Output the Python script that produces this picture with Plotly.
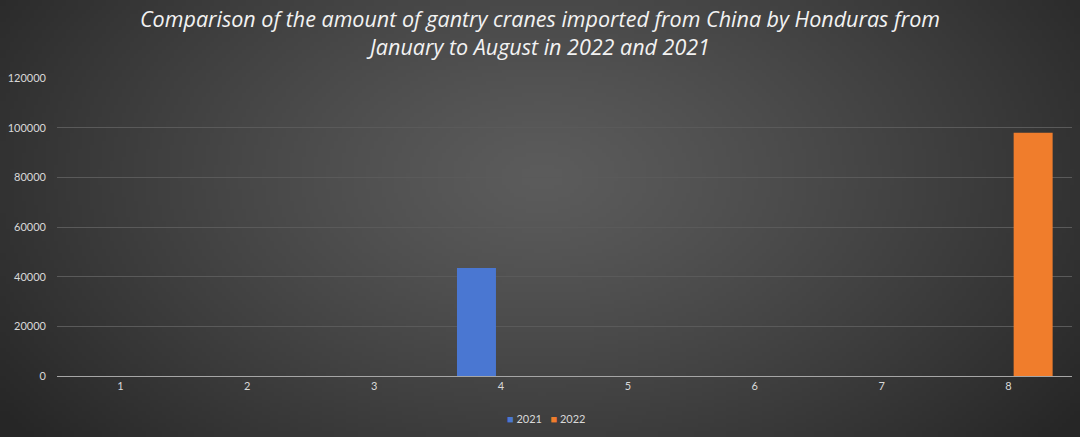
import base64, struct, zlib
import numpy as np
import plotly.graph_objects as go

months = ["1", "2", "3", "4", "5", "6", "7", "8"]
imports_2021 = [0, 0, 0, 43500, 0, 0, 0, 0]
imports_2022 = [0, 0, 0, 0, 0, 0, 0, 98000]
series_names = ["2021", "2022"]
series_colors = ["#4a77d2", "#f07d2c"]
title_text = ("Comparison of the amount of gantry cranes imported from China by Honduras from"
              "<br>January to August in 2022 and 2021")

W, H = 1080, 437
ML, MR, MT, MB = 57, 8, 78, 61


def radial_png(w, h):
    yy, xx = np.mgrid[0:h, 0:w]
    cx, cy = w * 0.5, h * 0.40
    d = np.sqrt(((xx - cx) / (w * 0.62)) ** 2 + ((yy - cy) / (h * 0.95)) ** 2)
    d = np.clip(d, 0, 1)
    inner, outer = 92, 38
    v = (inner + (outer - inner) * d ** 1.2).astype(np.uint8)
    rgb = np.stack([v, v, v], axis=-1)
    raw = b"".join(b"\x00" + rgb[r].tobytes() for r in range(h))

    def chunk(t, data):
        c = struct.pack(">I", len(data)) + t + data
        return c + struct.pack(">I", zlib.crc32(t + data) & 0xFFFFFFFF)

    png = b"\x89PNG\r\n\x1a\n" + chunk(b"IHDR", struct.pack(">IIBBBBB", w, h, 8, 2, 0, 0, 0))
    png += chunk(b"IDAT", zlib.compress(raw, 9)) + chunk(b"IEND", b"")
    return "data:image/png;base64," + base64.b64encode(png).decode()


pw, ph = W - ML - MR, H - MT - MB

fig = go.Figure()
for name, vals, col in zip(series_names, [imports_2021, imports_2022], series_colors):
    fig.add_trace(go.Bar(x=months, y=vals, name=name, showlegend=False,
                         marker=dict(color=col, line=dict(width=0))))

legend_text = "&nbsp;&nbsp;&nbsp;".join(
    f"<span style='color:{c}'>■</span> {n}" for n, c in zip(series_names, series_colors))

fig.update_layout(
    width=W, height=H,
    margin=dict(l=ML, r=MR, t=MT, b=MB, autoexpand=False),
    paper_bgcolor="#3a3a3a",
    plot_bgcolor="rgba(0,0,0,0)",
    showlegend=False,
    barmode="group", bargap=0.225, bargroupgap=0.207,
    title=dict(text=title_text, x=0.5, xanchor="center", yref="container",
               y=1 - 27 / H, yanchor="top",
               font=dict(family="Open Sans", size=21.5, color="#f2f2f2", style="italic")),
    xaxis=dict(type="category", showgrid=False, showline=True, linecolor="#a6a6a6",
               linewidth=1, ticks="", tickfont=dict(family="Lato", size=11, color="#d9d9d9")),
    yaxis=dict(range=[0, 120050], tickvals=[0, 20000, 40000, 60000, 80000, 100000, 120000],
               tickformat="d", showgrid=True,
               gridcolor="#5a5a5a", gridwidth=1, zeroline=False, showline=False,
               tickfont=dict(family="Lato", size=11, color="#d9d9d9"), ticklabelstandoff=10),
    annotations=[dict(text=legend_text, xref="paper", yref="paper",
                      x=(546 - ML) / pw, y=-(418 - (H - MB)) / ph,
                      xanchor="center", yanchor="middle", showarrow=False,
                      font=dict(family="Lato", size=11, color="#d9d9d9"))],
    images=[dict(source=radial_png(270, 110), xref="paper", yref="paper",
                 x=-ML / pw, y=1 + MT / ph, sizex=W / pw, sizey=H / ph,
                 xanchor="left", yanchor="top", sizing="stretch", layer="below")],
)

fig.write_html("out.html", config={"displayModeBar": False},
               post_script="document.body.style.margin='0';document.body.style.overflow='hidden';")
